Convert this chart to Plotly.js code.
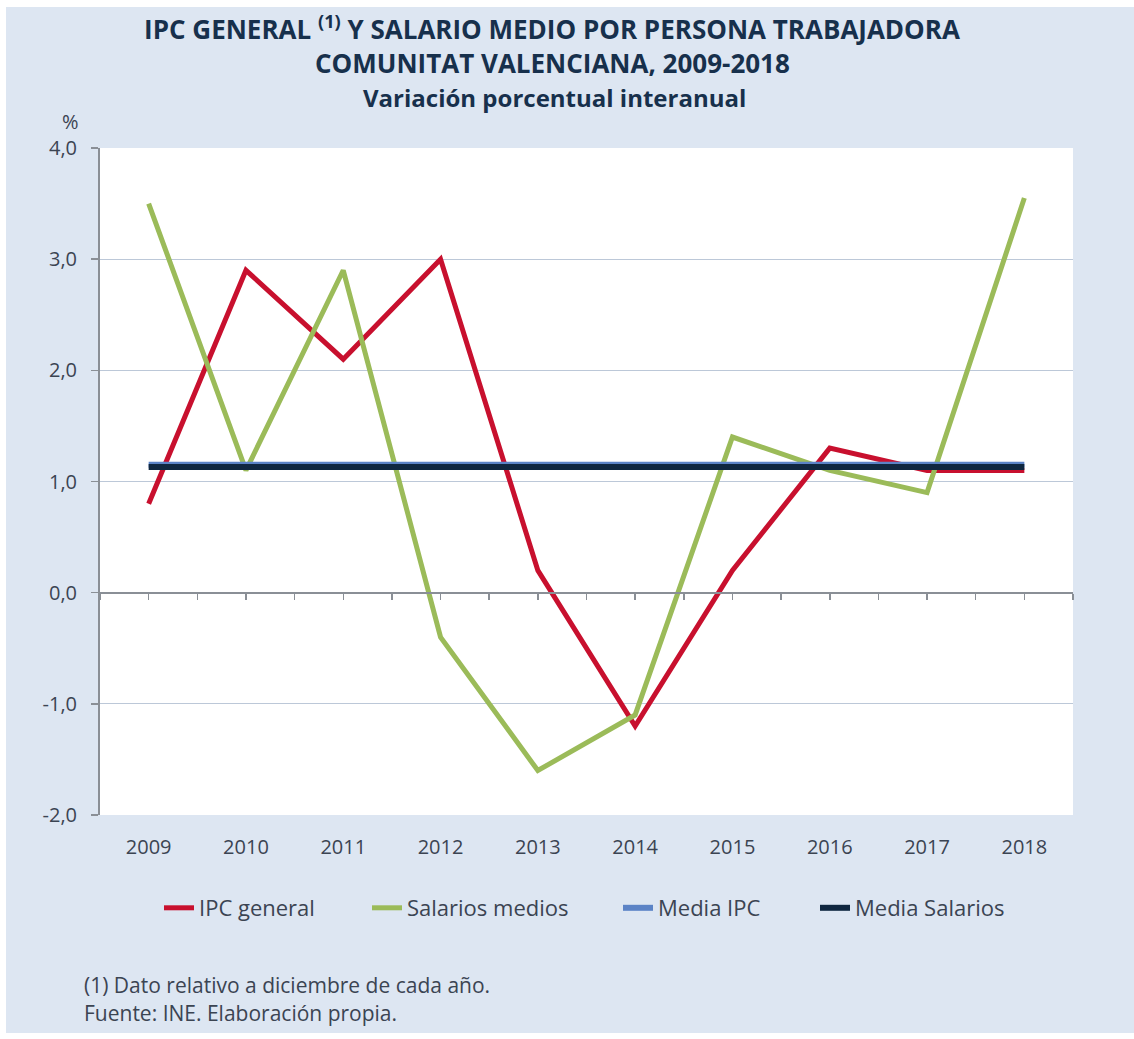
<!DOCTYPE html>
<html>
<head>
<meta charset="utf-8">
<script src="https://cdn.plot.ly/plotly-3.0.1.min.js"></script>
<style>
  html, body { margin: 0; padding: 0; background: #ffffff; }
  #chart { position: absolute; left: 6px; top: 7px; width: 1128px; height: 1026px; }
</style>
</head>
<body>
<div id="chart"></div>
<script>
// ---- data ----
const years = ['2009','2010','2011','2012','2013','2014','2015','2016','2017','2018'];
const ipcGeneral = [0.8, 2.9, 2.1, 3.0, 0.2, -1.2, 0.2, 1.3, 1.1, 1.1];
const salariosMedios = [3.5, 1.1, 2.9, -0.4, -1.6, -1.1, 1.4, 1.1, 0.9, 3.55];
const mediaIPC = [1.15, 1.15, 1.15, 1.15, 1.15, 1.15, 1.15, 1.15, 1.15, 1.15];
const mediaSalarios = [1.13, 1.13, 1.13, 1.13, 1.13, 1.13, 1.13, 1.13, 1.13, 1.13];
const yTicks = [-2, -1, 0, 1, 2, 3, 4];
const yTickText = ['-2,0', '-1,0', '0,0', '1,0', '2,0', '3,0', '4,0'];
const seriesNames = ['IPC general', 'Salarios medios', 'Media IPC', 'Media Salarios'];

const FONT = 'Open Sans, Noto Sans, sans-serif';
const TXT = '#3b4452';
const TITLE = '#17304c';

// plot area inside the div: left 94, top 141, right 1067, bottom 808
const W = 1128, H = 1026;
const mL = 94, mT = 141, mR = W - 1067, mB = H - 808;
const pw = W - mL - mR, ph = H - mT - mB;
const px = v => (v - mL) / pw;          // div px -> paper x
const py = v => (H - mB - v) / ph;       // div px -> paper y

function line(y, name, color, width, legendId) {
  return { x: years, y: y, name: name, type: 'scatter', mode: 'lines',
           line: { color: color, width: width }, hoverinfo: 'skip', legend: legendId };
}

const traces = [
  line(ipcGeneral, seriesNames[0], '#c8102e', 5, 'legend'),
  line(salariosMedios, seriesNames[1], '#9bbb59', 5, 'legend2'),
  line(mediaIPC, seriesNames[2], '#5b83c6', 6, 'legend3'),
  line(mediaSalarios, seriesNames[3], '#0f2740', 6, 'legend4')
];

function legendAt(xDiv) {
  return {
    orientation: 'h',
    x: px(xDiv), xanchor: 'left',
    y: py(901), yanchor: 'middle',
    bgcolor: 'rgba(0,0,0,0)',
    font: { family: FONT, size: 22, color: TXT }
  };
}

const layout = {
  width: W, height: H,
  margin: { l: mL, r: mR, t: mT, b: mB, pad: 0 },
  paper_bgcolor: '#dde6f2',
  plot_bgcolor: '#ffffff',
  font: { family: FONT, color: TXT, size: 20 },
  showlegend: true,
  title: {
    text: 'IPC GENERAL <sup>(1)</sup> Y SALARIO MEDIO POR PERSONA TRABAJADORA',
    font: { family: FONT, size: 26, color: TITLE, weight: 700 },
    x: 546 / W, xanchor: 'center', xref: 'container',
    y: 1 - 23 / H, yanchor: 'middle', yref: 'container'
  },
  xaxis: {
    type: 'category',
    range: [-0.5, 9.5],
    showgrid: false, zeroline: false, showline: false,
    ticks: '', ticklabelstandoff: 18,
    tickfont: { family: FONT, size: 20, color: TXT },
    fixedrange: true
  },
  xaxis2: {
    overlaying: 'x', anchor: 'free', position: 1 / 3,
    range: [-0.5, 9.5], tick0: -0.5, dtick: 0.5,
    ticks: 'outside', ticklen: 6, tickcolor: '#8a8f96', tickwidth: 1.5,
    showticklabels: false, showgrid: false, zeroline: false,
    showline: true, linecolor: '#8a8f96', linewidth: 2
  },
  yaxis: {
    range: [-2, 4],
    tickvals: yTicks, ticktext: yTickText,
    showgrid: true, gridcolor: '#bcc8d8', gridwidth: 1.2,
    zeroline: false,
    showline: true, linecolor: '#8a8f96', linewidth: 2,
    ticks: 'outside', ticklen: 7, tickcolor: '#8a8f96', tickwidth: 1.5,
    ticklabelstandoff: 10,
    tickfont: { family: FONT, size: 20, color: TXT },
    fixedrange: true
  },
  legend: legendAt(153),
  legend2: legendAt(361),
  legend3: legendAt(612),
  legend4: legendAt(809),
  annotations: [
    { text: 'COMUNITAT VALENCIANA, 2009-2018', xref: 'paper', yref: 'paper',
      x: px(546), y: py(56), xanchor: 'center', yanchor: 'middle', showarrow: false,
      font: { family: FONT, size: 26, color: TITLE, weight: 700 } },
    { text: 'Variación porcentual interanual', xref: 'paper', yref: 'paper',
      x: px(548), y: py(91), xanchor: 'center', yanchor: 'middle', showarrow: false,
      font: { family: FONT, size: 24, color: TITLE, weight: 700 } },
    { text: '%', xref: 'paper', yref: 'paper',
      x: px(64), y: py(115), xanchor: 'center', yanchor: 'middle', showarrow: false,
      font: { family: FONT, size: 20, color: TXT } },
    { text: '(1) Dato relativo a diciembre de cada año.', xref: 'paper', yref: 'paper',
      x: px(76), y: py(978), xanchor: 'left', yanchor: 'middle', showarrow: false,
      font: { family: FONT, size: 21, color: TXT } },
    { text: 'Fuente: INE. Elaboración propia.', xref: 'paper', yref: 'paper',
      x: px(76), y: py(1006), xanchor: 'left', yanchor: 'middle', showarrow: false,
      font: { family: FONT, size: 21, color: TXT } }
  ]
};

// invisible trace bound to xaxis2 so the overlay axis is drawn
traces.push({ x: [-0.5, 9.5], y: [null, null], xaxis: 'x2', yaxis: 'y', type: 'scatter',
              mode: 'lines', showlegend: false, hoverinfo: 'skip' });

Plotly.newPlot('chart', traces, layout, { displayModeBar: false, staticPlot: true });
</script>
</body>
</html>
